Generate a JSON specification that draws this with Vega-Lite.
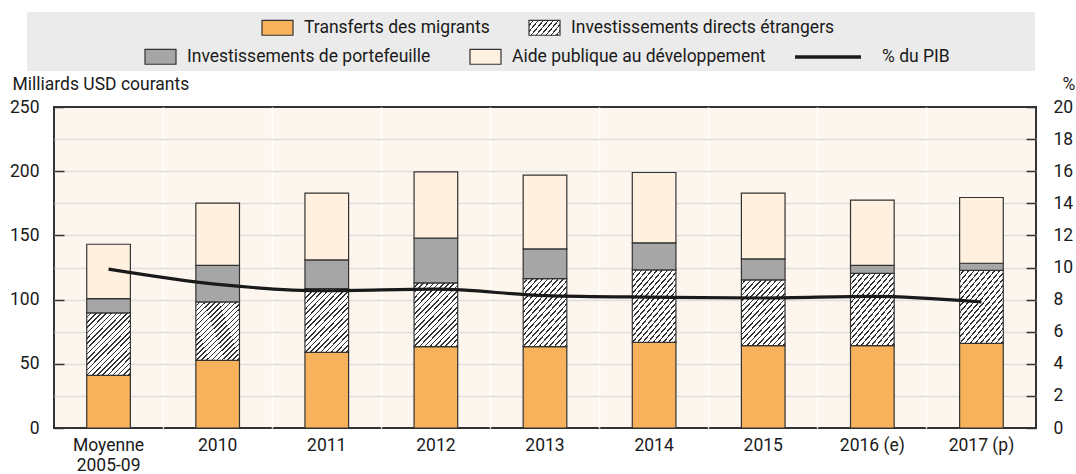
{
  "$schema": "https://vega.github.io/schema/vega-lite/v6.json",
  "width": 982,
  "height": 321,
  "autosize": {"type": "none"},
  "padding": {"left": 54, "top": 107, "right": 40, "bottom": 46},
  "background": "#ffffff",
  "config": {
    "font": "Roboto",
    "view": {"fill": "#fdf6ee", "stroke": "#333333", "strokeWidth": 2},
    "axis": {"labelFontSize": 17.5, "labelColor": "#1a1a1a", "titleFontSize": 17.5, "titleFontWeight": "normal", "titleColor": "#1a1a1a", "domain": false, "tickColor": "#333333"},
    "legend": {"labelFontSize": 17.5, "labelColor": "#1a1a1a", "padding": 0, "labelLimit": 500}
  },
  "datasets": {
    "flux": [
      {"annee": "Moyenne 2005-09", "serie": "Transferts des migrants", "valeur": 41.0},
      {"annee": "Moyenne 2005-09", "serie": "Investissements directs étrangers", "valeur": 48.6},
      {"annee": "Moyenne 2005-09", "serie": "Investissements de portefeuille", "valeur": 11.2},
      {"annee": "Moyenne 2005-09", "serie": "Aide publique au développement", "valeur": 42.3},
      {"annee": "2010", "serie": "Transferts des migrants", "valeur": 52.7},
      {"annee": "2010", "serie": "Investissements directs étrangers", "valeur": 45.5},
      {"annee": "2010", "serie": "Investissements de portefeuille", "valeur": 28.5},
      {"annee": "2010", "serie": "Aide publique au développement", "valeur": 48.4},
      {"annee": "2011", "serie": "Transferts des migrants", "valeur": 58.9},
      {"annee": "2011", "serie": "Investissements directs étrangers", "valeur": 49.7},
      {"annee": "2011", "serie": "Investissements de portefeuille", "valeur": 22.3},
      {"annee": "2011", "serie": "Aide publique au développement", "valeur": 52.0},
      {"annee": "2012", "serie": "Transferts des migrants", "valeur": 63.4},
      {"annee": "2012", "serie": "Investissements directs étrangers", "valeur": 49.6},
      {"annee": "2012", "serie": "Investissements de portefeuille", "valeur": 34.8},
      {"annee": "2012", "serie": "Aide publique au développement", "valeur": 51.7},
      {"annee": "2013", "serie": "Transferts des migrants", "valeur": 63.4},
      {"annee": "2013", "serie": "Investissements directs étrangers", "valeur": 53.0},
      {"annee": "2013", "serie": "Investissements de portefeuille", "valeur": 23.1},
      {"annee": "2013", "serie": "Aide publique au développement", "valeur": 57.4},
      {"annee": "2014", "serie": "Transferts des migrants", "valeur": 66.7},
      {"annee": "2014", "serie": "Investissements directs étrangers", "valeur": 56.4},
      {"annee": "2014", "serie": "Investissements de portefeuille", "valeur": 21.1},
      {"annee": "2014", "serie": "Aide publique au développement", "valeur": 54.8},
      {"annee": "2015", "serie": "Transferts des migrants", "valeur": 64.1},
      {"annee": "2015", "serie": "Investissements directs étrangers", "valeur": 51.3},
      {"annee": "2015", "serie": "Investissements de portefeuille", "valeur": 16.3},
      {"annee": "2015", "serie": "Aide publique au développement", "valeur": 51.2},
      {"annee": "2016 (e)", "serie": "Transferts des migrants", "valeur": 64.1},
      {"annee": "2016 (e)", "serie": "Investissements directs étrangers", "valeur": 56.4},
      {"annee": "2016 (e)", "serie": "Investissements de portefeuille", "valeur": 6.2},
      {"annee": "2016 (e)", "serie": "Aide publique au développement", "valeur": 50.7},
      {"annee": "2017 (p)", "serie": "Transferts des migrants", "valeur": 65.9},
      {"annee": "2017 (p)", "serie": "Investissements directs étrangers", "valeur": 56.9},
      {"annee": "2017 (p)", "serie": "Investissements de portefeuille", "valeur": 5.5},
      {"annee": "2017 (p)", "serie": "Aide publique au développement", "valeur": 51.2}
    ],
    "pib": [
      {"annee": "Moyenne 2005-09", "serie": "% du PIB", "pib": 9.9},
      {"annee": "2010", "serie": "% du PIB", "pib": 8.95},
      {"annee": "2011", "serie": "% du PIB", "pib": 8.55},
      {"annee": "2012", "serie": "% du PIB", "pib": 8.65},
      {"annee": "2013", "serie": "% du PIB", "pib": 8.25},
      {"annee": "2014", "serie": "% du PIB", "pib": 8.15},
      {"annee": "2015", "serie": "% du PIB", "pib": 8.1},
      {"annee": "2016 (e)", "serie": "% du PIB", "pib": 8.2},
      {"annee": "2017 (p)", "serie": "% du PIB", "pib": 7.85}
    ]
  },
  "data": {"name": "flux"},
  "encoding": {
    "x": {
      "field": "annee",
      "type": "nominal",
      "title": null,
      "scale": {
        "domain": ["Moyenne 2005-09", "2010", "2011", "2012", "2013", "2014", "2015", "2016 (e)", "2017 (p)"],
        "paddingInner": 0.6,
        "paddingOuter": 0.3
      },
      "axis": {
        "orient": "bottom",
        "ticks": false,
        "labelAngle": 0,
        "labelBaseline": "top",
        "labelPadding": 8,
        "labelOverlap": false,
        "labelLineHeight": 20,
        "bandPosition": -0.75,
        "labelExpr": "datum.value === 'Moyenne 2005-09' ? ['Moyenne', '2005-09'] : datum.label",
        "grid": true,
        "gridColor": "#ffffff",
        "gridWidth": 1.5,
        "gridOpacity": {"condition": {"test": "datum.value === 'Moyenne 2005-09'", "value": 0}, "value": 1}
      }
    }
  },
  "layer": [
    {
      "transform": [
        {"stack": "valeur", "groupby": ["annee"], "sort": [{"field": "serie", "order": "descending"}], "as": ["bas", "haut"]},
        {"filter": {"field": "serie", "oneOf": ["Transferts des migrants", "Investissements directs étrangers"]}}
      ],
      "mark": {"type": "bar", "stroke": "#333333", "strokeWidth": 1.2},
      "encoding": {
        "y": {
          "field": "haut",
          "type": "quantitative",
          "scale": {"domain": [0, 250]},
          "axis": {
            "orient": "left",
            "title": "Milliards USD courants",
            "titleAngle": 0,
            "titleAlign": "left",
            "titleBaseline": "middle",
            "titleX": -42,
            "titleY": -23,
            "values": [0, 25, 50, 75, 100, 125, 150, 175, 200, 225, 250],
            "labelExpr": "datum.value % 50 === 0 ? datum.label : ''",
            "tickSize": -10,
            "tickWidth": 1.5,
            "tickOpacity": {"condition": {"test": "datum.value % 50 !== 0", "value": 0}, "value": 1},
            "labelPadding": 25,
            "grid": true,
            "gridColor": "#dedede",
            "gridWidth": 1.5,
            "gridOpacity": {"condition": {"test": "datum.value === 0 || datum.value === 250", "value": 0}, "value": 1}
          }
        },
        "y2": {"field": "bas"},
        "fill": {
          "condition": {
            "test": "datum.serie === 'Investissements directs étrangers'",
            "value": {"gradient": "linear", "x1": 0, "y1": 0, "x2": 1, "y2": 1.4, "stops": [
              {"offset": 0, "color": "#ffffff"}, {"offset": 0.028, "color": "#ffffff"}, {"offset": 0.028, "color": "#333333"}, {"offset": 0.04, "color": "#333333"},
              {"offset": 0.04, "color": "#ffffff"}, {"offset": 0.068, "color": "#ffffff"}, {"offset": 0.068, "color": "#333333"}, {"offset": 0.08, "color": "#333333"},
              {"offset": 0.08, "color": "#ffffff"}, {"offset": 0.108, "color": "#ffffff"}, {"offset": 0.108, "color": "#333333"}, {"offset": 0.12, "color": "#333333"},
              {"offset": 0.12, "color": "#ffffff"}, {"offset": 0.148, "color": "#ffffff"}, {"offset": 0.148, "color": "#333333"}, {"offset": 0.16, "color": "#333333"},
              {"offset": 0.16, "color": "#ffffff"}, {"offset": 0.188, "color": "#ffffff"}, {"offset": 0.188, "color": "#333333"}, {"offset": 0.2, "color": "#333333"},
              {"offset": 0.2, "color": "#ffffff"}, {"offset": 0.228, "color": "#ffffff"}, {"offset": 0.228, "color": "#333333"}, {"offset": 0.24, "color": "#333333"},
              {"offset": 0.24, "color": "#ffffff"}, {"offset": 0.268, "color": "#ffffff"}, {"offset": 0.268, "color": "#333333"}, {"offset": 0.28, "color": "#333333"},
              {"offset": 0.28, "color": "#ffffff"}, {"offset": 0.308, "color": "#ffffff"}, {"offset": 0.308, "color": "#333333"}, {"offset": 0.32, "color": "#333333"},
              {"offset": 0.32, "color": "#ffffff"}, {"offset": 0.348, "color": "#ffffff"}, {"offset": 0.348, "color": "#333333"}, {"offset": 0.36, "color": "#333333"},
              {"offset": 0.36, "color": "#ffffff"}, {"offset": 0.388, "color": "#ffffff"}, {"offset": 0.388, "color": "#333333"}, {"offset": 0.4, "color": "#333333"},
              {"offset": 0.4, "color": "#ffffff"}, {"offset": 0.428, "color": "#ffffff"}, {"offset": 0.428, "color": "#333333"}, {"offset": 0.44, "color": "#333333"},
              {"offset": 0.44, "color": "#ffffff"}, {"offset": 0.468, "color": "#ffffff"}, {"offset": 0.468, "color": "#333333"}, {"offset": 0.48, "color": "#333333"},
              {"offset": 0.48, "color": "#ffffff"}, {"offset": 0.508, "color": "#ffffff"}, {"offset": 0.508, "color": "#333333"}, {"offset": 0.52, "color": "#333333"},
              {"offset": 0.52, "color": "#ffffff"}, {"offset": 0.548, "color": "#ffffff"}, {"offset": 0.548, "color": "#333333"}, {"offset": 0.56, "color": "#333333"},
              {"offset": 0.56, "color": "#ffffff"}, {"offset": 0.588, "color": "#ffffff"}, {"offset": 0.588, "color": "#333333"}, {"offset": 0.6, "color": "#333333"},
              {"offset": 0.6, "color": "#ffffff"}, {"offset": 0.628, "color": "#ffffff"}, {"offset": 0.628, "color": "#333333"}, {"offset": 0.64, "color": "#333333"},
              {"offset": 0.64, "color": "#ffffff"}, {"offset": 0.668, "color": "#ffffff"}, {"offset": 0.668, "color": "#333333"}, {"offset": 0.68, "color": "#333333"},
              {"offset": 0.68, "color": "#ffffff"}, {"offset": 0.708, "color": "#ffffff"}, {"offset": 0.708, "color": "#333333"}, {"offset": 0.72, "color": "#333333"},
              {"offset": 0.72, "color": "#ffffff"}, {"offset": 0.748, "color": "#ffffff"}, {"offset": 0.748, "color": "#333333"}, {"offset": 0.76, "color": "#333333"},
              {"offset": 0.76, "color": "#ffffff"}, {"offset": 0.788, "color": "#ffffff"}, {"offset": 0.788, "color": "#333333"}, {"offset": 0.8, "color": "#333333"},
              {"offset": 0.8, "color": "#ffffff"}, {"offset": 0.828, "color": "#ffffff"}, {"offset": 0.828, "color": "#333333"}, {"offset": 0.84, "color": "#333333"},
              {"offset": 0.84, "color": "#ffffff"}, {"offset": 1, "color": "#ffffff"}
            ]}
          },
          "field": "serie",
          "type": "nominal",
          "scale": {
            "domain": ["Transferts des migrants", "Investissements directs étrangers"],
            "range": [
              "#f8b25c",
              {"expr": "{gradient: 'linear', x1: 0, y1: 0, x2: 1.4, y2: 0.56, stops: [{offset: 0, color: '#ffffff'}, {offset: 0.07, color: '#ffffff'}, {offset: 0.07, color: '#333333'}, {offset: 0.1, color: '#333333'}, {offset: 0.1, color: '#ffffff'}, {offset: 0.17, color: '#ffffff'}, {offset: 0.17, color: '#333333'}, {offset: 0.2, color: '#333333'}, {offset: 0.2, color: '#ffffff'}, {offset: 0.27, color: '#ffffff'}, {offset: 0.27, color: '#333333'}, {offset: 0.3, color: '#333333'}, {offset: 0.3, color: '#ffffff'}, {offset: 0.37, color: '#ffffff'}, {offset: 0.37, color: '#333333'}, {offset: 0.4, color: '#333333'}, {offset: 0.4, color: '#ffffff'}, {offset: 0.47, color: '#ffffff'}, {offset: 0.47, color: '#333333'}, {offset: 0.5, color: '#333333'}, {offset: 0.5, color: '#ffffff'}, {offset: 0.57, color: '#ffffff'}, {offset: 0.57, color: '#333333'}, {offset: 0.6, color: '#333333'}, {offset: 0.6, color: '#ffffff'}, {offset: 0.67, color: '#ffffff'}, {offset: 0.67, color: '#333333'}, {offset: 0.7, color: '#333333'}, {offset: 0.7, color: '#ffffff'}, {offset: 0.77, color: '#ffffff'}, {offset: 0.77, color: '#333333'}, {offset: 0.8, color: '#333333'}, {offset: 0.8, color: '#ffffff'}, {offset: 0.87, color: '#ffffff'}, {offset: 0.87, color: '#333333'}, {offset: 0.9, color: '#333333'}, {offset: 0.9, color: '#ffffff'}, {offset: 1, color: '#ffffff'}]}"}
            ]
          },
          "legend": {
            "title": null,
            "orient": "none",
            "direction": "horizontal",
            "legendX": 207,
            "legendY": -96,
            "symbolType": "M-1,-0.48H1V0.48H-1Z",
            "symbolSize": 961,
            "symbolStrokeColor": "#333333",
            "symbolStrokeWidth": 1.2,
            "labelOffset": 10,
            "columnPadding": 36,
            "zindex": 1
          }
        },
        "stroke": {
          "field": "valeur",
          "type": "quantitative",
          "scale": {"range": ["#333333", "#333333"]},
          "legend": {
            "title": null,
            "orient": "none",
            "direction": "horizontal",
            "legendX": -27,
            "legendY": -95,
            "gradientLength": 1008,
            "gradientThickness": 59,
            "gradientStrokeWidth": 0,
            "labelOpacity": 0,
            "zindex": 0,
            "encode": {"gradient": {"update": {"fill": {"value": "#ebebeb"}, "opacity": {"value": 1}}}}
          }
        }
      }
    },
    {
      "transform": [
        {"stack": "valeur", "groupby": ["annee"], "sort": [{"field": "serie", "order": "descending"}], "as": ["bas", "haut"]},
        {"filter": {"field": "serie", "oneOf": ["Investissements de portefeuille", "Aide publique au développement"]}}
      ],
      "mark": {"type": "bar", "stroke": "#333333", "strokeWidth": 1.2},
      "encoding": {
        "y": {"field": "haut", "type": "quantitative", "scale": {"domain": [0, 250]}, "axis": null},
        "y2": {"field": "bas"},
        "color": {
          "field": "serie",
          "type": "nominal",
          "scale": {
            "domain": ["Investissements de portefeuille", "Aide publique au développement"],
            "range": ["#a6a6a6", "#fff0df"]
          },
          "legend": {
            "title": null,
            "orient": "none",
            "direction": "horizontal",
            "legendX": 90,
            "legendY": -67,
            "symbolType": "M-1,-0.48H1V0.48H-1Z",
            "symbolSize": 961,
            "symbolStrokeColor": "#333333",
            "symbolStrokeWidth": 1.2,
            "labelOffset": 10,
            "columnPadding": 36,
            "zindex": 1
          }
        }
      }
    },
    {
      "data": {"name": "pib"},
      "mark": {"type": "line", "interpolate": "monotone", "strokeWidth": 3.2},
      "encoding": {
        "y": {
          "field": "pib",
          "type": "quantitative",
          "scale": {"domain": [0, 20]},
          "axis": {
            "orient": "right",
            "title": "%",
            "titleAngle": 0,
            "titleAlign": "left",
            "titleBaseline": "middle",
            "titleX": 26,
            "titleY": -23,
            "values": [0, 2, 4, 6, 8, 10, 12, 14, 16, 18, 20],
            "tickSize": -10,
            "tickWidth": 1.5,
            "labelPadding": 27,
            "grid": false
          }
        },
        "stroke": {
          "field": "serie",
          "type": "nominal",
          "scale": {"range": ["#1a1a1a"]},
          "legend": {
            "title": null,
            "orient": "none",
            "legendX": 739,
            "legendY": -85,
            "symbolType": "stroke",
            "symbolSize": 4356,
            "symbolStrokeWidth": 3.5,
            "labelOffset": 19,
            "zindex": 1
          }
        }
      }
    }
  ],
  "resolve": {"scale": {"y": "independent", "stroke": "independent"}}
}
